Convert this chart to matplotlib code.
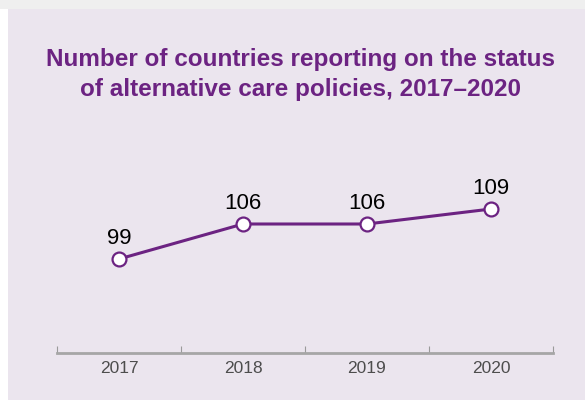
import matplotlib
matplotlib.use("Agg")
import matplotlib.pyplot as plt
from matplotlib.patches import Rectangle

# data
years = ["2017", "2018", "2019", "2020"]
countries = [99, 106, 106, 109]

purple = "#6c2382"
bg = "#ebe5ee"

plt.rcParams["font.family"] = ["Liberation Sans", "DejaVu Sans"]

fig = plt.figure(figsize=(5.85, 4.0), dpi=100)
fig.patch.set_facecolor("white")
# panel background + light strip on top
fig.patches.append(Rectangle((8 / 585, 0), 1, 391 / 400, transform=fig.transFigure,
                             facecolor=bg, edgecolor="none", zorder=-2))
fig.patches.append(Rectangle((0, 391 / 400), 1, 9 / 400, transform=fig.transFigure,
                             facecolor="#efefef", edgecolor="none", zorder=-2))

ax = fig.add_axes([57 / 585, 47 / 400, 496 / 585, 203 / 400])
ax.set_facecolor("none")

x = list(range(len(years)))
ax.plot(x, countries, color=purple, linewidth=2.2, marker="o", markersize=10,
        markerfacecolor="white", markeredgecolor=purple, markeredgewidth=1.6, zorder=3)

for xi, v in zip(x, countries):
    ax.annotate(str(v), (xi, v), xytext=(0, 11), textcoords="offset points",
                ha="center", va="baseline", fontsize=16, color="black")

ax.set_xlim(-0.5, len(years) - 0.5)
ax.set_ylim(80.2, 120.8)

ax.set_xticks(x)
ax.set_xticklabels(years, fontsize=12.5, color="#4d4d4d")
ax.set_xticks([i - 0.5 for i in range(len(years) + 1)], minor=True)
ax.tick_params(axis="x", which="major", length=0, pad=6)
ax.tick_params(axis="x", which="minor", direction="in", length=5, width=0.8, color="#9a9a9a")
ax.set_yticks([])

for s in ["top", "right", "left"]:
    ax.spines[s].set_visible(False)
ax.spines["bottom"].set_color("#a6a6a6")
ax.spines["bottom"].set_linewidth(2)

fig.text(301 / 585, 1 - 74.5 / 400, "Number of countries reporting on the status\nof alternative care policies, 2017\u20132020",
         ha="center", va="center", fontsize=17.5, fontweight="bold", color=purple,
         linespacing=1.38)

fig.savefig("out.png", dpi=100)
